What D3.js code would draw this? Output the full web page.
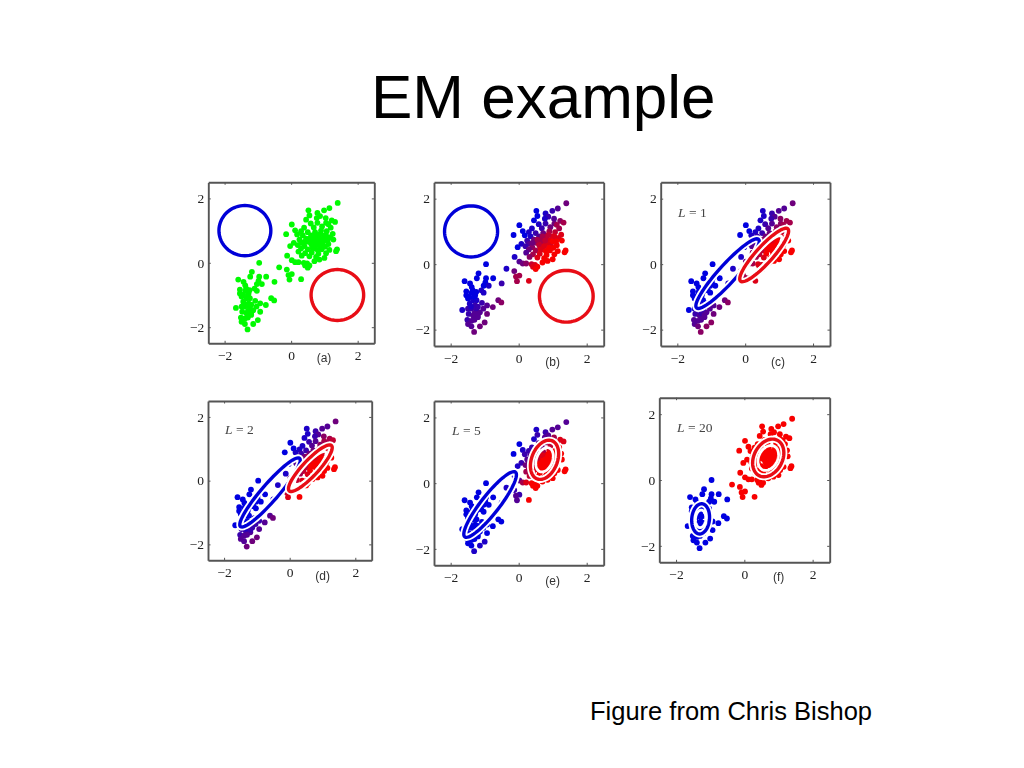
<!DOCTYPE html>
<html><head><meta charset="utf-8">
<script src="https://cdnjs.cloudflare.com/ajax/libs/d3/7.8.5/d3.min.js"></script>
<style>html,body{margin:0;padding:0;background:#fff}svg{display:block}</style>
</head><body><svg id="c" width="1024" height="768"></svg>
<script>
const pointX = [
 -.96,-.36,-.13,.02,-.08,-.05,.30,-.5,-1.18,-1.23,
 -.96,-.75,-.98,-1.59,-1.43,-1.38,-1.03,-.88,-1.1,-1.03,
 -1.54,-1.54,-1.38,-1.28,-1.49,-1.34,-1.24,-1.44,-1.28,-1.08,
 -.93,-.76,-.6,-.51,-1.66,-1.49,-1.39,-1.24,-1.14,-.93,
 -1.04,-1.47,-1.34,-1.2,-1.51,-1.39,-1.49,-1.39,-1.0,-1.14,
 -1.31,-1.3,-1.4,-1.3,-1.25,-1.35,-1.2,-1.45,-1.2,-1.3,-1.25,
 1.40,1.15,.99,.52,.79,.55,.87,1.04,.77,.45,
 1.22,1.32,.02,.59,.79,1.05,.12,-.15,.39,1.19,
 .68,.93,1.12,.90,.30,.50,.72,1.07,1.25,.18,
 .35,.60,.82,1.00,1.18,.25,.45,.70,.90,1.10,
 1.27,.08,.30,.52,.75,.95,1.12,-.03,.20,.40,
 .62,.85,1.02,.30,.50,.70,.92,1.15,1.38,1.35,
 .22,.42,.62,.82,1.05,-.12,.32,.55,.75,1.00,
 .02,.12,.22,.38,.48,.55,.42,.50,.70,.85,
 .65,.8,.85,.95,.6,.75,.7,1.0,.55,.9,
 .65,.8,.4,1.05,.78,.88];
const pointY = [
 0,-.14,-.21,-.35,-.38,-.52,-.51,-.59,-.28,-.43,
 -.43,-.43,-.56,-.52,-.59,-.70,-.66,-.66,-.8,-.87,
 -.83,-.95,-.87,-.95,-1.05,-1.1,-1.1,-1.21,-1.26,-1.18,
 -1.26,-1.31,-1.1,-1.17,-1.4,-1.36,-1.36,-1.42,-1.47,-1.52,
 -1.36,-1.52,-1.57,-1.62,-1.7,-1.73,-1.83,-1.9,-1.78,-1.9,
 -2.07,-1.0,-1.3,-1.5,-1.35,-.8,-1.3,-1.0,-1.55,-1.7,-.85,
 1.86,1.70,1.63,1.63,1.55,1.47,1.45,1.39,1.39,1.34,
 1.32,1.27,1.19,1.22,1.24,1.24,1.01,.89,1.09,1.09,
 1.10,1.13,1.20,1.00,.98,.95,.95,.98,.90,.88,
 .85,.85,.85,.85,.80,.72,.75,.75,.72,.70,
 .72,.62,.62,.65,.65,.62,.58,.52,.55,.52,
 .55,.55,.50,.45,.42,.45,.42,.40,.42,.36,
 .35,.30,.32,.28,.30,.22,.22,.20,.18,.15,
 .08,.02,.02,0,-.02,-.08,-.08,-.15,.05,.10,
 .70,.8,.65,.75,.6,.55,.85,.7,.75,.5,
 .45,.4,.65,.85,.72,.9];
const redShareB = [
 0,1,4,6,6,6,8,2,0,0,
 0,0,0,0,0,0,0,1,1,1,
 0,0,0,0,0,1,1,1,2,2,
 3,4,4,5,1,2,2,3,3,4,
 3,2,3,3,2,3,3,3,4,4,
 4,0,1,3,2,0,2,0,3,3,0,
 4,3,2,0,1,0,2,3,1,0,
 5,6,0,1,2,4,0,0,1,6,
 2,4,6,6,1,2,4,7,8,0,
 1,3,6,8,8,2,4,6,8,9,
 9,1,3,5,7,8,9,0,2,5,
 7,9,9,4,6,8,9,9,9,9,
 3,6,8,9,9,1,5,8,9,9,
 3,4,5,7,8,9,8,9,9,9,
 6,7,8,8,7,8,6,9,6,9,
 8,9,4,8,7,7];
const redShareC = [
 0,1,5,6,6,7,8,1,0,0,
 0,0,0,0,0,0,0,0,0,0,
 0,0,0,0,0,0,0,0,1,1,
 3,4,4,5,0,1,2,2,3,4,
 3,2,3,3,3,3,3,4,5,5,
 5,0,1,2,1,0,1,0,3,3,0,
 4,3,3,1,2,1,3,5,2,1,
 6,6,0,2,3,5,0,0,1,7,
 3,5,6,6,1,2,4,7,8,1,
 2,4,6,8,9,2,4,6,8,9,
 9,1,3,5,8,9,9,1,3,5,
 8,9,9,5,7,9,9,9,9,9,
 5,7,9,9,9,1,6,8,9,9,
 4,5,6,8,8,9,8,9,9,9,
 7,7,9,9,8,9,5,9,5,9,
 9,9,4,8,8,6];
const redShareD = [
 0,1,6,7,7,8,9,1,0,0,
 0,0,0,0,0,0,0,0,0,0,
 0,0,0,0,0,0,0,0,0,1,
 2,3,3,4,0,0,1,1,2,3,
 2,2,2,3,2,3,3,3,4,4,
 4,0,0,1,1,0,1,0,2,3,0,
 4,3,3,1,2,1,3,5,2,1,
 6,7,0,2,3,6,0,0,1,7,
 3,5,6,6,1,2,4,8,9,1,
 2,4,7,8,9,2,4,7,8,9,
 9,1,3,6,8,9,9,1,3,6,
 8,9,9,5,7,9,9,9,9,9,
 6,7,9,9,9,1,6,8,9,9,
 4,6,7,8,9,9,9,9,9,9,
 7,8,9,9,8,9,6,9,6,9,
 9,9,5,8,8,7];
const redShareE = [
 0,1,2,2,3,3,9,0,0,0,
 0,0,0,0,0,0,0,0,0,0,
 0,0,0,0,0,0,0,0,0,0,
 0,0,0,0,0,0,0,0,0,0,
 0,0,0,0,0,0,0,0,1,1,
 1,0,0,0,0,0,0,0,0,0,0,
 3,3,3,1,2,2,3,6,3,1,
 8,8,0,3,5,7,1,0,2,9,
 4,7,8,8,2,3,6,9,9,2,
 3,6,8,9,9,3,5,8,9,9,
 9,2,4,7,9,9,9,1,4,6,
 8,9,9,6,8,9,9,9,9,9,
 6,8,9,9,9,1,7,9,9,9,
 3,6,8,9,9,9,9,9,9,9,
 9,9,9,9,9,9,8,9,7,9,
 9,9,6,9,9,9];
const redShareF = [
 0,9,9,9,9,9,9,0,0,0,
 0,0,0,0,0,0,0,0,0,0,
 0,0,0,0,0,0,0,0,0,0,
 0,0,0,0,0,0,0,0,0,0,
 0,0,0,0,0,0,0,0,0,0,
 0,0,0,0,0,0,0,0,0,0,0,
 9,9,9,9,9,9,9,9,9,9,
 9,9,9,9,9,9,9,9,9,9,
 9,9,9,9,9,9,9,9,9,9,
 9,9,9,9,9,9,9,9,9,9,
 9,9,9,9,9,9,9,9,9,9,
 9,9,9,9,9,9,9,9,9,9,
 9,9,9,9,9,9,9,9,9,9,
 9,9,9,9,9,9,9,9,9,9,
 9,9,9,9,9,9,9,9,9,9,
 9,9,9,9,9,9];

const tickValues = [-2, 0, 2];
const panelNames = ["(a)", "(b)", "(c)", "(d)", "(e)", "(f)"];
const iterationLabels = ["", "", "L = 1", "L = 2", "L = 5", "L = 20"];
// component contours: centre x, centre y, major, minor, tilt in degrees, inner ring scale
const blueContours = [
 [-1.39,1.0,.78,.78,0,0],[-1.4,1.0,.78,.78,0,0],
 [-.52,-.29,1.39,.27,49,0],[-.6,-.37,1.4,.26,50,0],
 [-.84,-.65,1.235,.27,53,0],[-1.28,-1.18,.46,.26,85,.58]];
const redContours = [
 [1.39,-1.0,.79,.79,0,0],[1.4,-.98,.79,.79,0,0],
 [.56,.28,1.06,.25,49,.72],[.63,.39,.96,.24,48,.72],
 [.76,.71,.62,.38,70,.62],[.70,.67,.6,.42,65,.66]];
const panelShares = [null, redShareB, redShareC, redShareD, redShareE, redShareF];

// layout of each photographed panel on the slide
const frames = [
 {l:208.3,r:374.3,t:182.3,b:343.3,nx:324,ny:362,tx:0,ty:0},
 {l:434,r:603.7,t:182.3,b:346,nx:552.7,ny:366,tx:0,ty:0},
 {l:660.7,r:830,t:182.3,b:346,nx:778,ny:366,tx:678,ty:217},
 {l:208,r:371.7,t:401,b:560.3,nx:322.7,ny:580,tx:225,ty:434},
 {l:434,r:603.7,t:401,b:565.3,nx:552.7,ny:585,tx:452,ty:435},
 {l:659.3,r:829.7,t:397.7,b:562.3,nx:778.7,ny:581,tx:677,ty:432}];

if (pointX.length !== pointY.length || panelShares.slice(1).some(a => a.length !== pointX.length))
  throw new Error("length mismatch " + [pointX.length, pointY.length].concat(panelShares.slice(1).map(a => a.length)));

const svg = d3.select("#c");
svg.append("defs").append("filter").attr("id","soft")
  .attr("x","-5%").attr("y","-5%").attr("width","110%").attr("height","110%")
  .append("feGaussianBlur").attr("stdDeviation",0.5);

svg.append("text").attr("x",371).attr("y",118).attr("font-family","Liberation Sans")
  .attr("font-size",62).attr("fill","#000").text("EM example");
svg.append("text").attr("x",590).attr("y",719.5).attr("font-family","Liberation Sans")
  .attr("font-size",25.5).attr("fill","#000").text("Figure from Chris Bishop");

const share = d3.scaleLinear().domain([0,9]).range(["#0000e0","#f80000"]).interpolate(d3.interpolateRgb);
const blueRing = "#0606d8", redRing = "#e80a14";

frames.forEach((f, i) => {
  const x = d3.scaleLinear().domain([-2.49,2.5]).range([f.l,f.r]);
  const y = d3.scaleLinear().domain([-2.5,2.5]).range([f.b,f.t]);
  const g = svg.append("g").attr("filter","url(#soft)");

  g.selectAll("circle.pt").data(pointX.map((v,k)=>k)).join("circle").attr("class","pt")
    .attr("cx",k=>x(pointX[k])).attr("cy",k=>y(pointY[k])).attr("r",2.9)
    .attr("fill",k=> i===0 ? "#00fa00" : share(panelShares[i][k]));

  const line = d3.line().curve(d3.curveLinearClosed);
  const contour = (c, scale) => {
    const a = c[4]*Math.PI/180;
    return line(d3.range(0,360,5).map(t => {
      const r = t*Math.PI/180, u = c[2]*scale*Math.cos(r), v = c[3]*scale*Math.sin(r);
      return [x(c[0]+u*Math.cos(a)-v*Math.sin(a)), y(c[1]+u*Math.sin(a)+v*Math.cos(a))];
    }));
  };
  [[blueContours[i],blueRing],[redContours[i],redRing]].forEach(([c,col]) => {
    if (i>1) g.append("path").attr("d",contour(c,1)).attr("fill","none").attr("stroke","#fff").attr("stroke-width",7);
    if (c[5]>0) g.append("path").attr("d",contour(c,c[5])).attr("fill","none").attr("stroke","#fff").attr("stroke-width",2.8);
    g.append("path").attr("d",contour(c,1)).attr("fill","none").attr("stroke",col).attr("stroke-width",3.4);
  });

  const fmt = d => d<0 ? "\u2212"+(-d) : ""+d;
  const style = a => { a.select(".domain").attr("stroke","#555").attr("stroke-width",1.9);
    a.selectAll(".tick line").attr("stroke","#555").attr("stroke-width",1);
    a.selectAll("text").attr("font-family","Liberation Serif").attr("font-size",13.5).attr("fill","#222"); };
  const ax = (gen,tx,ty,labels) => g.append("g").attr("transform",`translate(${tx},${ty})`)
    .call(gen.tickValues(tickValues).tickSize(-2.5).tickSizeOuter(0).tickPadding(labels?7:0).tickFormat(labels?fmt:"")).call(style);
  ax(d3.axisBottom(x),0,f.b,true);
  ax(d3.axisTop(x),0,f.t,false);
  ax(d3.axisRight(y),f.r,0,false);
  g.append("g").attr("transform",`translate(${f.l},0)`)
    .call(d3.axisLeft(y).tickValues(tickValues).tickSize(-2.5).tickSizeOuter(0).tickPadding(4).tickFormat(fmt)).call(style);

  g.append("text").attr("x",f.nx).attr("y",f.ny).attr("text-anchor","middle")
    .attr("font-family","Liberation Sans").attr("font-size",12).attr("fill","#333").text(panelNames[i]);
  if (iterationLabels[i]) {
    const parts = iterationLabels[i].split("L");
    const t = g.append("text").attr("x",f.tx).attr("y",f.ty).attr("font-family","Liberation Serif")
      .attr("font-size",13.5).attr("fill","#444");
    t.append("tspan").attr("font-style","italic").text("L");
    t.append("tspan").text(parts[1]);
  }
});
</script></body></html>
